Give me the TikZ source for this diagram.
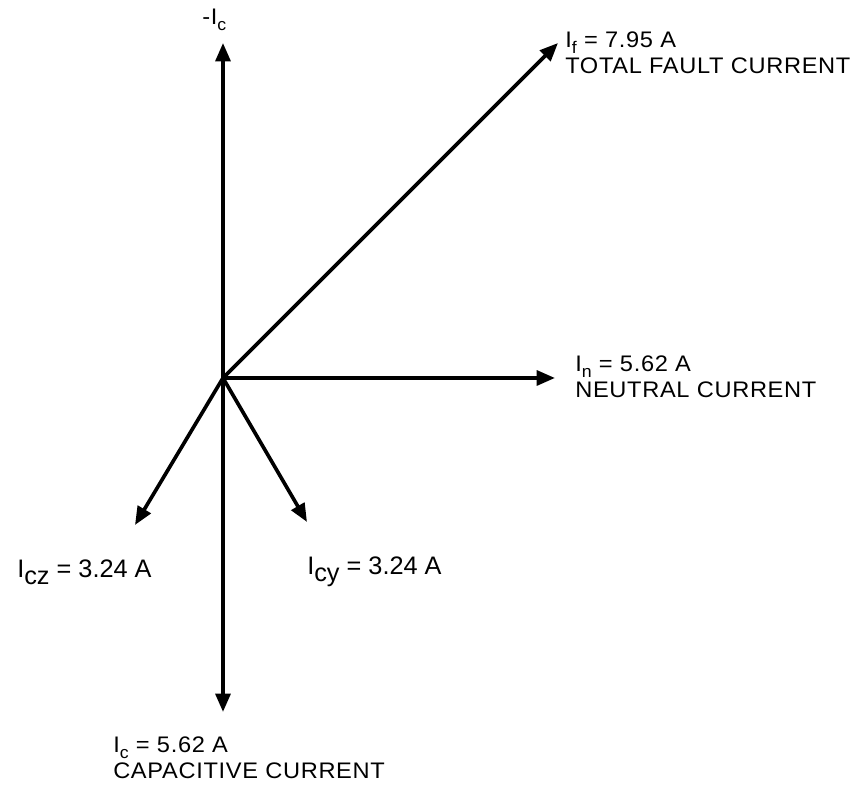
\documentclass[tikz,border=0pt]{standalone}
\usepackage{fontspec}
\setmainfont{Liberation Sans}
\newfontfamily\capsfont{Liberation Sans}[FakeStretch=1.05,LetterSpace=3]
\usetikzlibrary{arrows.meta}
\newcommand{\lowsub}[1]{\raisebox{-0.45ex}{\fontsize{12}{13}\selectfont #1}}

\begin{document}
\begin{tikzpicture}[x=0.025cm,y=0.025cm,
  phasor/.style={line width=2.6pt,-{Triangle[length=13pt,width=10.5pt]}},
  lab/.style={inner sep=0pt,align=left,font=\capsfont\fontsize{16}{18}\selectfont},
  biglab/.style={inner sep=0pt,font=\fontsize{18}{22}\selectfont}]
  \useasboundingbox (0,0) rectangle (864,787);
  \coordinate (O) at (223,409);
  \coordinate (Ctop) at (223,744);
  \coordinate (Cbot) at (223,75);
  \coordinate (In) at (555,409);
  \coordinate (If) at (558,744);
  \coordinate (Icz) at (135,262);
  \coordinate (Icy) at (307,265);
  \draw[phasor] (O) -- (Ctop);
  \draw[phasor] (O) -- (Cbot);
  \draw[phasor] (O) -- (In);
  \draw[phasor] (O) -- (If);
  \draw[phasor] (O) -- (Icz);
  \draw[phasor] (O) -- (Icy);
  \node[lab,anchor=base west] (ctoplab) at (202,762) {-I\lowsub{c}};
  \node[lab,anchor=north west] (iflab) at (565,755)
    {I\lowsub{f} = 7.95 A\\TOTAL FAULT CURRENT};
  \node[lab,anchor=north west] (inlab) at (575,431)
    {I\lowsub{n} = 5.62 A\\NEUTRAL CURRENT};
  \node[lab,anchor=north west] (iclab) at (113,50)
    {I\lowsub{c} = 5.62 A\\CAPACITIVE CURRENT};
  \node[biglab,anchor=base west] (iczlab) at (17,209)
    {I\raisebox{-0.5ex}{cz} = 3.24 A};
  \node[biglab,anchor=base west] (icylab) at (307,212)
    {I\raisebox{-0.5ex}{cy} = 3.24 A};
\end{tikzpicture}
\end{document}
